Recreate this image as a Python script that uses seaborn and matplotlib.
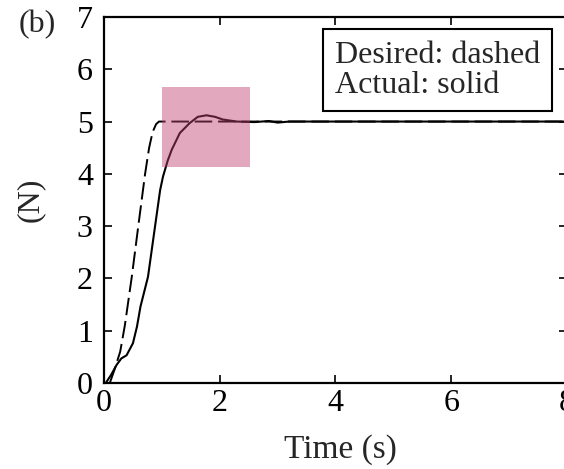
import matplotlib
matplotlib.use('Agg')
import matplotlib.pyplot as plt
from matplotlib.patches import Rectangle
import seaborn as sns

sns.set_style('ticks')
plt.rcParams['font.family'] = ['Liberation Serif', 'DejaVu Serif']

# ── Data ─────────────────────────────────────────────────────────────────────
t_desired = [0.10, 0.18, 0.28, 0.36, 0.48, 0.59, 0.71, 0.78, 0.84, 0.90, 0.95,
             1.05, 8.2]
f_desired = [0.0, 0.25, 0.60, 1.10, 2.03, 2.98, 4.00, 4.50, 4.80, 4.95, 5.00,
             5.00, 5.00]

t_actual = [0.03, 0.12, 0.22, 0.30, 0.39, 0.50, 0.57, 0.63, 0.76, 0.88, 0.97,
            1.02, 1.10, 1.17, 1.31, 1.48, 1.62, 1.77, 1.92, 2.05, 2.29, 2.60,
            2.85, 3.00, 3.20, 3.50, 8.2]
f_actual = [0.0, 0.15, 0.35, 0.47, 0.53, 0.76, 1.08, 1.46, 2.03, 2.98, 3.69,
            3.95, 4.25, 4.46, 4.78, 4.97, 5.09, 5.12, 5.09, 5.04, 5.00, 4.99,
            5.01, 4.98, 5.00, 5.00, 5.00]

x_ticks = [0, 2, 4, 6, 8]
y_ticks = [0, 1, 2, 3, 4, 5, 6, 7]

# highlighted region (x0, y0, width, height) in data units
zoom_box = (1.0, 4.13, 1.52, 1.53)

# ── Plot ─────────────────────────────────────────────────────────────────────
fig = plt.figure(figsize=(5.64, 4.69), dpi=100)
ax = fig.add_axes([0.1844, 0.1834, 0.8209, 0.7804])

sns.lineplot(x=t_desired, y=f_desired, ax=ax, color='black', lw=1.4,
             linestyle=(0, (9, 3)), label='Desired: dashed')
sns.lineplot(x=t_actual, y=f_actual, ax=ax, color='black', lw=1.5,
             label='Actual: solid')

ax.add_patch(Rectangle(zoom_box[:2], zoom_box[2], zoom_box[3],
                       facecolor=(0.75, 0.26, 0.44), alpha=0.45,
                       edgecolor='none', zorder=5))

ax.set_xlim(0, 8)
ax.set_ylim(0, 7)
ax.set_xticks(x_ticks)
ax.set_yticks(y_ticks)
ax.tick_params(direction='in', length=6, width=1.2, top=True, right=True,
               labelsize=23, colors='black')
ax.tick_params(axis='x', pad=4.5)
ax.tick_params(axis='y', pad=8)
for s in ax.spines.values():
    s.set_linewidth(1.6)
    s.set_color('black')

ax.set_xlabel('Time (s)', fontsize=24)
ax.set_ylabel('(N)', fontsize=23)
ax.xaxis.set_label_coords(0.51, -0.14)
ax.yaxis.set_label_coords(-0.127, 0.5)

# text-only legend (handles hidden)
leg = ax.legend(loc='upper right', bbox_to_anchor=(0.9676, 0.967),
                borderaxespad=0, handlelength=0, handletextpad=0,
                borderpad=0.37, labelspacing=0.0,
                fontsize=23, fancybox=False, framealpha=1, edgecolor='black')
leg.get_frame().set_linewidth(1.5)
for h in leg.legend_handles:
    h.set_visible(False)

fig.text(0.0656, 0.9467, '(b)', fontsize=23, ha='center', va='center')

fig.savefig('out.png', dpi=100)
